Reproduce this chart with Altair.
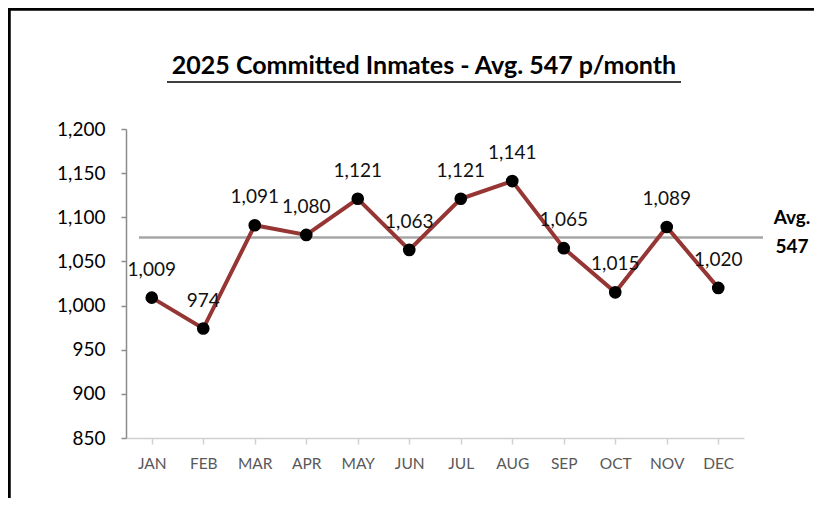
import altair as alt
import pandas as pd

months = ["JAN", "FEB", "MAR", "APR", "MAY", "JUN", "JUL", "AUG", "SEP", "OCT", "NOV", "DEC"]
committed = [1009, 974, 1091, 1080, 1121, 1063, 1121, 1141, 1065, 1015, 1089, 1020]
avg_level = [1077]
title_text = "2025 Committed Inmates - Avg. 547 p/month"
avg_label = ["Avg.", "547"]

df = pd.DataFrame({"month": months, "value": committed})
df["label"] = [f"{v:,}" for v in committed]
avg_df = pd.DataFrame({"avg": avg_level})

FONT = "Lato"

x_enc = alt.X(
    "month:N", sort=months, title=None,
    scale=alt.Scale(paddingInner=0, paddingOuter=0),
    axis=alt.Axis(
        labelAngle=0, labelFont=FONT, labelFontSize=15.5, labelColor="#595959",
        domainColor="#d0d0d0", domainWidth=1.5, tickColor="#d0d0d0", tickWidth=1.5,
        tickSize=6, bandPosition=0, labelPadding=12, grid=False,
    ),
)
y_enc = alt.Y(
    "value:Q", title=None,
    scale=alt.Scale(domain=[850, 1200], nice=False, zero=False),
    axis=alt.Axis(
        values=list(range(850, 1201, 50)), format=",d", labelFont=FONT,
        labelFontSize=19, labelColor="#000000", domainColor="#8c8c8c",
        domainWidth=1.5, tickColor="#8c8c8c", tickWidth=1.5, tickSize=5,
        labelPadding=16, grid=False,
    ),
)

base = alt.Chart(df)

line = base.mark_line(color="#963634", strokeWidth=4).encode(x=x_enc, y=y_enc)
points = base.mark_point(filled=True, color="#000000", size=160, opacity=1).encode(x=x_enc, y=y_enc)
labels = base.mark_text(font=FONT, fontSize=19, color="#111111", baseline="middle", dy=-28).encode(
    x=x_enc, y=y_enc, text="label:N"
)

avg_rule = alt.Chart(avg_df).mark_rule(color="#a6a6a6", strokeWidth=2.5).encode(
    y=alt.Y("avg:Q"), x=alt.value(13), x2=alt.value(637)
)

avg_text = alt.Chart(pd.DataFrame({"t": [avg_label]})).mark_text(
    font=FONT, fontSize=19, fontWeight="bold", color="#000000", align="center",
    baseline="middle", lineHeight=29,
).encode(text="t:N", x=alt.value(666), y=alt.value(89))

title = alt.Chart(pd.DataFrame({"t": [title_text]})).mark_text(
    font=FONT, fontSize=25, fontWeight="bold", color="#000000", align="center", baseline="middle"
).encode(text="t:N", x=alt.value(298), y=alt.value(-63))

underline = alt.Chart(pd.DataFrame({"t": [title_text]})).mark_rule(color="#000000", strokeWidth=1.6).encode(
    x=alt.value(41), x2=alt.value(555), y=alt.value(-47)
)

border_top = alt.Chart(pd.DataFrame({"t": [0]})).mark_rule(color="#000000", strokeWidth=3.5).encode(
    x=alt.value(-118), x2=alt.value(700), y=alt.value(-120)
)
border_left = alt.Chart(pd.DataFrame({"t": [0]})).mark_rule(color="#000000", strokeWidth=3.5).encode(
    x=alt.value(-117), y=alt.value(-121), y2=alt.value(380)
)

chart = alt.layer(
    border_top, border_left, title, underline, avg_rule, line, points, labels, avg_text
).properties(
    width=618, height=309,
    autosize=alt.AutoSizeParams(type="none"),
    padding={"left": 118, "top": 121, "right": 70, "bottom": 60},
).configure(background="white").configure_view(strokeWidth=0, stroke=None)

chart.save("out.html", embed_options={"renderer": "svg", "actions": False})
